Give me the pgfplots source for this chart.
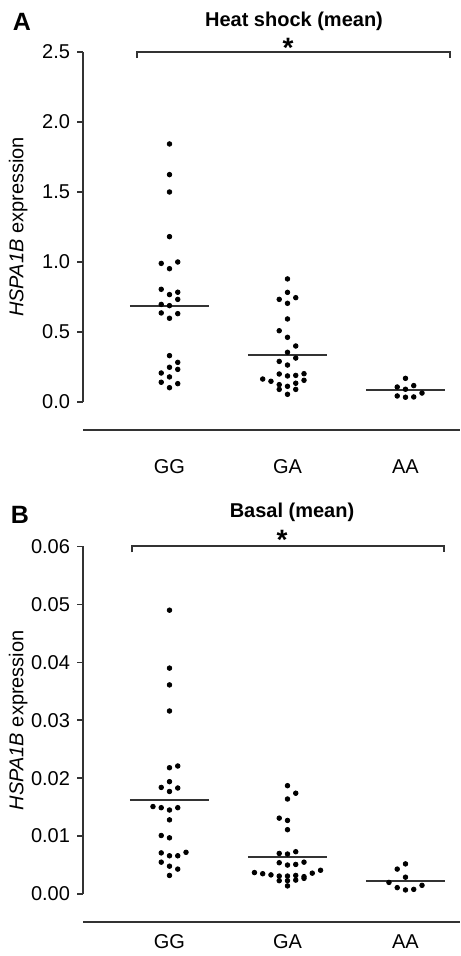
\documentclass[border=0pt]{standalone}
\usepackage{fontspec}
\setmainfont{Liberation Sans}
\usepackage{pgfplots}
\pgfplotsset{compat=1.18}
\definecolor{axisGray}{HTML}{333333}
\pgfplotsset{
  panel/.style={
    scale only axis, width=188.5pt,
    xmin=-0.733, xmax=2.462,
    axis x line=none, axis y line*=left,
    y axis line style={line width=0.75pt, color=axisGray, -},
    ytick style={line width=0.75pt, color=axisGray},
    tick align=outside, major tick length=3pt,
    /pgf/number format/assume math mode=true,
    ylabel={\textit{HSPA1B} expression},
    ylabel style={at={(axis description cs:-0.172,0.5)}, anchor=center},
    clip=false,
  },
  dots/.style={only marks, mark=*, mark size=1.15pt, color=black},
  mean/.style={no marks, line width=1pt, color=axisGray},
}
\tikzset{cat/.style={font=\normalsize},
  star/.style={anchor=base, inner sep=0pt, font=\fontsize{14}{16}\selectfont\bfseries}}
\begin{document}
\begin{tikzpicture}
\path[use as bounding box] (0,0) rectangle (230pt,478pt);

% ---- panel A: heat shock
\begin{axis}[panel, at={(41.5pt,277pt)}, anchor=south west, height=175pt,
  ymin=0, ymax=2.5, ytick={0,0.5,...,2.5},
  yticklabel style={/pgf/number format/.cd, fixed, fixed zerofill, precision=1},
]
\addplot[dots] coordinates {
  (0,1.843) (0,1.624) (0,1.500) (0,1.181) (-0.07,0.990) (0.07,1.000) (0,0.952)
  (-0.07,0.805) (0,0.767) (0.07,0.784) (0.07,0.733) (-0.07,0.697) (0,0.688)
  (-0.07,0.636) (0,0.598) (0.07,0.631) (0,0.331) (0.07,0.283) (0,0.248)
  (0.07,0.233) (-0.07,0.207) (0,0.179) (-0.07,0.141) (0.07,0.131) (0,0.102)
};
\addplot[dots] coordinates {
  (1,0.879) (1,0.783) (0.93,0.733) (1.07,0.745) (1,0.705) (1,0.593) (0.93,0.509)
  (1,0.462) (1.07,0.400) (1,0.355) (1.07,0.314) (0.93,0.290) (1,0.264)
  (0.93,0.200) (1,0.186) (1.07,0.190) (1.14,0.202) (0.79,0.164) (0.86,0.148)
  (1.14,0.155) (0.93,0.124) (1,0.112) (1.07,0.134) (0.93,0.090) (1.07,0.090)
  (1,0.055)
};
\addplot[dots] coordinates {
  (2,0.169) (1.93,0.107) (2.07,0.117) (2,0.091) (2.14,0.064) (1.93,0.043)
  (2,0.034) (2.07,0.036)
};
\addplot[mean] coordinates {(-0.335,0.688) (0.335,0.688)};
\addplot[mean] coordinates {(0.665,0.336) (1.335,0.336)};
\addplot[mean] coordinates {(1.665,0.083) (2.335,0.083)};
% x axis line, detached
\draw[line width=0.75pt, axisGray] (axis cs:-0.733,-0.2) -- (axis cs:2.462,-0.2);
\node[cat] at (axis cs:0,-0.464) {GG};
\node[cat] at (axis cs:1,-0.464) {GA};
\node[cat] at (axis cs:2,-0.464) {AA};
% significance bracket
\draw[line width=0.75pt, axisGray] (axis cs:-0.275,2.457) |- (axis cs:2.377,2.5) -- (axis cs:2.377,2.457);
\end{axis}

% ---- panel B: basal
\begin{axis}[panel, at={(41.5pt,31pt)}, anchor=south west, height=173.75pt,
  ymin=0, ymax=0.06, ytick={0,0.01,...,0.06},
  yticklabel style={/pgf/number format/.cd, fixed, fixed zerofill, precision=2},
  scaled y ticks=false,
]
\addplot[dots] coordinates {
  (0,0.0490) (0,0.0390) (0,0.0361) (0,0.0316) (0,0.0218) (0.07,0.0221)
  (0,0.0194) (-0.07,0.0184) (0.07,0.0183) (0,0.0177) (-0.14,0.0151)
  (-0.07,0.0149) (0,0.0145) (0.07,0.0149) (0,0.0128) (-0.07,0.0101)
  (0,0.0097) (-0.07,0.0071) (0,0.0066) (0.07,0.0066) (0.14,0.0072)
  (-0.07,0.0055) (0,0.0048) (0.07,0.0043) (0,0.0032)
};
\addplot[dots] coordinates {
  (1,0.0187) (1.07,0.0174) (1,0.0164) (0.93,0.0131) (1,0.0127) (1,0.0111)
  (0.93,0.0070) (1,0.0069) (1.07,0.0073) (0.93,0.0054) (1,0.0050)
  (1.07,0.0051) (1.14,0.0055) (0.72,0.0037) (0.79,0.0035) (0.86,0.0033)
  (0.93,0.0031) (1,0.0031) (1.07,0.0032) (1.14,0.0030) (1.21,0.0036)
  (1.28,0.0041) (0.93,0.0023) (1,0.0023) (1.07,0.0024) (1.14,0.0027)
  (1,0.0014)
};
\addplot[dots] coordinates {
  (2,0.0052) (1.93,0.0043) (2,0.0029) (1.86,0.0020) (2.14,0.0015)
  (1.93,0.0011) (2,0.0007) (2.07,0.0008)
};
\addplot[mean] coordinates {(-0.335,0.0163) (0.335,0.0163)};
\addplot[mean] coordinates {(0.665,0.0064) (1.335,0.0064)};
\addplot[mean] coordinates {(1.665,0.0022) (2.335,0.0022)};
\draw[line width=0.75pt, axisGray] (axis cs:-0.733,-0.00484) -- (axis cs:2.462,-0.00484);
\node[cat] at (axis cs:0,-0.00829) {GG};
\node[cat] at (axis cs:1,-0.00829) {GA};
\node[cat] at (axis cs:2,-0.00829) {AA};
\draw[line width=0.75pt, axisGray] (axis cs:-0.318,0.059) |- (axis cs:2.326,0.0601) -- (axis cs:2.326,0.059);
\end{axis}

% titles, panel letters, asterisks
\node[font=\bfseries] at (147pt,467.5pt) {Heat shock (mean)};
\node[font=\bfseries] at (146pt,222pt) {Basal (mean)};
\node[font=\fontsize{12.5}{15}\selectfont\bfseries] at (11pt,467pt) {A};
\node[font=\fontsize{12.5}{15}\selectfont\bfseries] at (10pt,220.5pt) {B};
\node[star] at (144pt,449pt) {*};
\node[star] at (141pt,203pt) {*};
\end{tikzpicture}
\end{document}
